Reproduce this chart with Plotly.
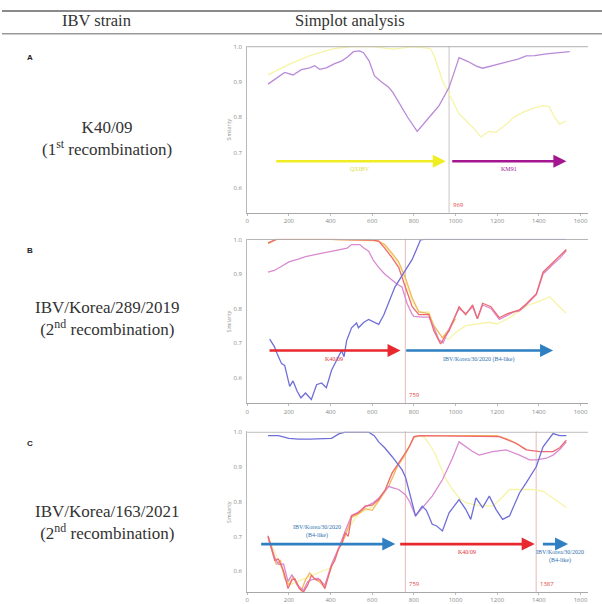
import plotly.graph_objects as go

W, H = 602, 604

# ---------------- data ----------------
# Panel A (K40/09)
A_purple_x = [100,140,180,220,260,300,324,348,380,420,454,480,510,540,558,585,611,645,679,700,727,770,816,850,888,921,945,969,995,1017,1060,1100,1130,1170,1210,1260,1300,1339,1380,1436,1480,1520,1548]
A_purple_y = [0.894,0.91,0.927,0.92,0.935,0.94,0.946,0.936,0.94,0.952,0.96,0.97,0.986,0.988,0.983,0.96,0.917,0.9,0.885,0.87,0.842,0.80,0.76,0.785,0.81,0.833,0.86,0.885,0.93,0.969,0.958,0.945,0.939,0.945,0.95,0.958,0.965,0.974,0.975,0.98,0.983,0.984,0.986]
A_yellow_x = [100,200,300,420,500,600,700,800,880,900,937,969,1017,1050,1082,1122,1160,1193,1243,1280,1323,1370,1420,1450,1475,1500,1530]
A_yellow_y = [0.92,0.95,0.975,0.995,1.0,1.0,0.993,1.0,0.995,0.97,0.904,0.866,0.81,0.79,0.772,0.744,0.76,0.757,0.78,0.80,0.814,0.825,0.833,0.83,0.80,0.78,0.79]

# Panel B (IBV/Korea/289/2019)
B_blue_x = [108,130,147,165,180,204,220,240,258,280,308,333,357,380,405,430,453,465,477,501,525,534,560,583,610,631,655,679,709,743,770,792,812,832,850,1530]
B_blue_y = [0.711,0.69,0.664,0.64,0.635,0.574,0.59,0.56,0.541,0.555,0.536,0.579,0.584,0.57,0.621,0.65,0.678,0.66,0.706,0.744,0.758,0.744,0.76,0.768,0.76,0.754,0.78,0.815,0.862,0.895,0.92,0.942,0.97,0.999,1.0,1.0]
B_red_x = [100,140,400,500,600,631,660,695,727,759,792,824,872,896,928,950,969,1000,1017,1049,1082,1105,1130,1170,1210,1250,1280,1307,1339,1388,1420,1468,1500,1532]
B_red_y = [0.99,1.0,1.0,0.998,0.998,0.995,0.975,0.947,0.919,0.862,0.805,0.782,0.782,0.735,0.697,0.72,0.735,0.78,0.805,0.782,0.81,0.77,0.815,0.805,0.773,0.785,0.79,0.796,0.813,0.843,0.905,0.933,0.95,0.971]
B_pink_x = [100,130,160,200,245,280,320,360,405,450,480,501,540,560,583,605,631,660,695,720,743,767,790,800,840,872,896,920,940,969,1017,1049,1082,1105,1130,1170,1210,1250,1280,1307,1339,1388,1420,1468,1500,1532]
B_pink_y = [0.905,0.91,0.92,0.935,0.943,0.95,0.955,0.96,0.966,0.97,0.975,0.985,0.985,0.975,0.966,0.94,0.919,0.9,0.881,0.87,0.862,0.815,0.785,0.777,0.775,0.775,0.745,0.71,0.70,0.74,0.80,0.785,0.805,0.77,0.81,0.80,0.768,0.78,0.79,0.793,0.81,0.84,0.90,0.928,0.945,0.968]
B_orange_x = [100,140,400,600,631,660,695,727,759,792,824,872,896,937,969,1000]
B_orange_y = [0.988,1.0,1.0,0.998,0.995,0.985,0.96,0.935,0.89,0.83,0.79,0.785,0.75,0.715,0.74,0.77]
B_yellow_x = [100,140,400,631,660,695,727,759,792,824,872,896,937,969,1000,1049,1100,1160,1200,1250,1300,1350,1400,1452,1490,1530]
B_yellow_y = [0.99,1.0,1.0,0.995,0.98,0.955,0.93,0.88,0.82,0.79,0.79,0.75,0.716,0.711,0.73,0.75,0.755,0.76,0.755,0.77,0.79,0.81,0.82,0.834,0.81,0.787]

# Panel C (IBV/Korea/163/2021)
C_blue_x = [100,150,200,245,300,405,440,470,583,610,631,660,695,720,743,760,776,790,808,840,860,888,910,937,969,1017,1049,1073,1098,1130,1162,1194,1226,1259,1290,1307,1339,1388,1420,1468,1500,1532]
C_blue_y = [0.99,0.99,0.982,0.98,0.98,0.982,0.995,1.0,1.0,0.99,0.972,0.955,0.93,0.91,0.892,0.87,0.835,0.80,0.759,0.787,0.775,0.735,0.73,0.716,0.768,0.806,0.778,0.749,0.811,0.783,0.816,0.778,0.749,0.759,0.80,0.825,0.854,0.901,0.958,0.996,0.99,0.99]
C_red_x = [100,120,132,150,175,196,215,229,250,270,290,308,330,350,373,390,405,420,438,455,470,485,501,534,566,600,631,663,695,727,759,780,800,830,1210,1250,1290,1339,1404,1468,1500,1532]
C_red_y = [0.702,0.66,0.631,0.635,0.60,0.55,0.575,0.578,0.55,0.54,0.56,0.588,0.575,0.575,0.55,0.585,0.616,0.63,0.664,0.68,0.711,0.70,0.759,0.768,0.787,0.79,0.806,0.835,0.882,0.911,0.939,0.96,0.987,0.99,0.987,0.978,0.968,0.949,0.944,0.944,0.955,0.977]
C_orange_x = [100,125,140,160,180,200,220,240,260,280,300,320,345,370,390,410,440,470,501,534,566,600,640,680,720,759,800,830,1200,1250,1300,1340]
C_orange_y = [0.695,0.65,0.62,0.63,0.58,0.56,0.585,0.565,0.545,0.575,0.595,0.58,0.57,0.555,0.59,0.62,0.665,0.70,0.755,0.765,0.78,0.775,0.81,0.845,0.90,0.935,0.985,0.99,0.99,0.98,0.965,0.95]
C_pink_x = [100,132,150,175,196,215,240,270,290,308,340,373,405,438,470,501,534,566,600,631,660,679,700,727,759,780,808,840,888,937,985,1017,1049,1080,1114,1150,1178,1243,1280,1307,1355,1388,1436,1468,1500,1532]
C_pink_y = [0.70,0.64,0.62,0.62,0.57,0.59,0.56,0.545,0.57,0.575,0.58,0.56,0.62,0.665,0.715,0.76,0.77,0.785,0.795,0.81,0.83,0.844,0.84,0.835,0.82,0.80,0.759,0.783,0.816,0.863,0.925,0.972,0.958,0.945,0.934,0.94,0.944,0.949,0.94,0.934,0.92,0.92,0.925,0.934,0.95,0.972]
C_yellow_x = [100,200,300,400,470,534,600,631,663,695,727,759,800,830,850,872,900,921,950,985,1020,1049,1100,1178,1220,1259,1300,1371,1420,1452,1490,1532]
C_yellow_y = [0.70,0.56,0.585,0.61,0.71,0.765,0.785,0.80,0.835,0.88,0.91,0.94,0.985,0.99,0.985,0.968,0.94,0.911,0.87,0.835,0.81,0.797,0.79,0.787,0.81,0.835,0.835,0.835,0.83,0.816,0.80,0.783]

# breakpoints
A_breaks = [969]
B_breaks = [759]
C_breaks = [759, 1387]

# arrows: (start, end, label, colour-key)
A_arrow_level = 0.675
A_arrows = [(132, 953, "QXIBV", "yellow"), (977, 1532, "KM91", "magenta")]
B_arrow_level = 0.678
B_arrows = [(100, 736, "K40/09", "red"), (756, 1468, "IBV/Korea/30/2020 (B4-like)", "blue")]
C_arrow_level = 0.678
C_arrows = [(60, 711, "IBV/Korea/30/2020<br>(B4-like)", "blue"), (727, 1380, "K40/09", "red"),
            (1412, 1540, "IBV/Korea/30/2020<br>(B4-like)", "blue")]

x_ticks = [0, 200, 400, 600, 800, 1000, 1200, 1400, 1600]
y_ticks = [0.6, 0.7, 0.8, 0.9, 1.0]

strain_names = ["K40/09", "IBV/Korea/289/2019", "IBV/Korea/163/2021"]
strain_notes = ["(1<sup>st</sup> recombination)", "(2<sup>nd</sup> recombination)", "(2<sup>nd</sup> recombination)"]
panel_letters = ["A", "B", "C"]

# ---------------- styles ----------------
COL = {
    "purple": "#b98ad8",
    "pink": "#d98ad0",
    "yellow": "#f6f4a6",
    "orange": "#f2b862",
    "red": "#ee6a72",
    "blue": "#6f6fd8",
}
ARROW_COL = {"yellow": "#f0ee22", "magenta": "#a3168f", "red": "#e8282e", "blue": "#2f80c2"}
LABEL_COL = {"yellow": "#dede40", "magenta": "#a3168f", "red": "#e03030", "blue": "#2f6fb0"}


def px2x(p):
    return p / W


def py2y(p):
    return 1 - p / H


fig = go.Figure()

panels = [
    dict(xa="x", ya="y", dom=[py2y(211), py2y(43.3)], rng=[0.5296, 1.002],
         traces=[(A_yellow_x, A_yellow_y, "yellow"), (A_purple_x, A_purple_y, "purple")],
         breaks=A_breaks, brcol="#cfc4c4", level=A_arrow_level, arrows=A_arrows),
    dict(xa="x2", ya="y2", dom=[py2y(403), py2y(237.3)], rng=[0.525, 1.002],
         traces=[(B_yellow_x, B_yellow_y, "yellow"), (B_orange_x, B_orange_y, "orange"),
                 (B_pink_x, B_pink_y, "pink"), (B_red_x, B_red_y, "red"), (B_blue_x, B_blue_y, "blue")],
         breaks=B_breaks, brcol="#e6b8b8", level=B_arrow_level, arrows=B_arrows),
    dict(xa="x3", ya="y3", dom=[py2y(593), py2y(431.3)], rng=[0.54, 1.002],
         traces=[(C_yellow_x, C_yellow_y, "yellow"), (C_orange_x, C_orange_y, "orange"),
                 (C_pink_x, C_pink_y, "pink"), (C_red_x, C_red_y, "red"), (C_blue_x, C_blue_y, "blue")],
         breaks=C_breaks, brcol="#e6b8b8", level=C_arrow_level, arrows=C_arrows),
]

XDOM = [px2x(246), px2x(588)]
XRNG = [0, 1636]

shapes = []
annotations = []
layout_axes = {}

for i, p in enumerate(panels):
    for xs, ys, c in p["traces"]:
        fig.add_trace(go.Scatter(x=xs, y=ys, mode="lines", xaxis=p["xa"], yaxis=p["ya"],
                                 line=dict(color=COL[c], width=1.3), showlegend=False,
                                 hoverinfo="skip"))
    suffix = "" if i == 0 else str(i + 1)
    layout_axes["xaxis" + suffix] = dict(
        domain=XDOM, range=XRNG, anchor=p["ya"], tickvals=x_ticks,
        ticktext=[str(t) for t in x_ticks], tickfont=dict(size=6, color="#888"),
        showline=True, linecolor="#a8a8a8", linewidth=1, showgrid=False, zeroline=False,
        ticks="outside", ticklen=2, tickcolor="#bbb")
    layout_axes["yaxis" + suffix] = dict(
        domain=p["dom"], range=p["rng"], anchor=p["xa"], tickvals=y_ticks,
        ticktext=["%.1f" % t for t in y_ticks], tickfont=dict(size=6, color="#888"),
        showline=True, linecolor="#b8b8b8", linewidth=1, showgrid=False, zeroline=False,
        ticks="", ticklabelstandoff=3)
    # top reference line at 1.0
    shapes.append(dict(type="line", xref=p["xa"] + " domain", yref=p["ya"], x0=0, x1=1, y0=1.0, y1=1.0,
                       line=dict(color="#b0b0b0", width=1)))
    # breakpoints
    for b in p["breaks"]:
        shapes.append(dict(type="line", xref=p["xa"], yref=p["ya"] + " domain", x0=b, x1=b, y0=0, y1=1,
                           line=dict(color=p["brcol"], width=1), layer="below"))
        annotations.append(dict(x=b, y=0, xref=p["xa"], yref=p["ya"] + " domain", text=str(b),
                                showarrow=False, xanchor="left", yanchor="bottom", xshift=2, yshift=2,
                                font=dict(size=6, color="#e04848")))
    # arrows
    for (s, e, lab, ck) in p["arrows"]:
        annotations.append(dict(x=e, y=p["level"], ax=s, ay=p["level"], xref=p["xa"], yref=p["ya"],
                                axref=p["xa"], ayref=p["ya"], text="", showarrow=True,
                                arrowhead=2, arrowsize=1.0, arrowwidth=2.6,
                                arrowcolor=ARROW_COL[ck], standoff=0, startstandoff=0))
    # y title
    annotations.append(dict(x=px2x(228), y=(p["dom"][0] + p["dom"][1]) / 2, xref="paper", yref="paper",
                            xanchor="center", yanchor="middle",
                            text="Similarity", textangle=-90, showarrow=False,
                            font=dict(size=5, color="#888")))

# arrow labels
lab_font = dict(size=6, family="Liberation Serif")


def arrow_label(x, y, xr, yr, text, ck, below=True, shift=3):
    annotations.append(dict(x=x, y=y, xref=xr, yref=yr, text=text, showarrow=False,
                            xanchor="center", yanchor="top" if below else "bottom",
                            yshift=-shift if below else shift,
                            font=dict(lab_font, color=LABEL_COL[ck])))


arrow_label((A_arrows[0][0] + A_arrows[0][1]) / 2, A_arrow_level, "x", "y", A_arrows[0][2], "yellow")
arrow_label((A_arrows[1][0] + A_arrows[1][1]) / 2, A_arrow_level, "x", "y", A_arrows[1][2], "magenta")
arrow_label((B_arrows[0][0] + B_arrows[0][1]) / 2, B_arrow_level, "x2", "y2", B_arrows[0][2], "red")
arrow_label((B_arrows[1][0] + B_arrows[1][1]) / 2, B_arrow_level, "x2", "y2", B_arrows[1][2], "blue")
arrow_label((C_arrows[0][0] + C_arrows[0][1]) / 2 - 50, C_arrow_level, "x3", "y3", C_arrows[0][2], "blue",
            below=False)
arrow_label((C_arrows[1][0] + C_arrows[1][1]) / 2, C_arrow_level, "x3", "y3", C_arrows[1][2], "red")
arrow_label(1500, C_arrow_level, "x3", "y3", C_arrows[2][2], "blue")

# header
serif = "Liberation Serif"
annotations.append(dict(x=px2x(95), y=py2y(18), xref="paper", yref="paper", text="IBV strain",
                        xanchor="center", yanchor="middle",
                        showarrow=False, font=dict(size=16.5, family=serif, color="#333")))
annotations.append(dict(x=px2x(349), y=py2y(18), xref="paper", yref="paper", text="Simplot analysis",
                        xanchor="center", yanchor="middle",
                        showarrow=False, font=dict(size=16.5, family=serif, color="#333")))
shapes.append(dict(type="line", xref="paper", yref="paper", x0=0, x1=1, y0=py2y(8), y1=py2y(8),
                   line=dict(color="#8a8a8a", width=2)))
shapes.append(dict(type="line", xref="paper", yref="paper", x0=0, x1=1, y0=py2y(31), y1=py2y(31),
                   line=dict(color="#9a9a9a", width=1.5)))

# left column
letter_y = [55, 249, 443]
block_y = [136, 318, 523]
for i in range(3):
    annotations.append(dict(x=px2x(28), y=py2y(letter_y[i]), xref="paper", yref="paper",
                            xanchor="center", yanchor="middle",
                            text="<b>%s</b>" % panel_letters[i], showarrow=False,
                            font=dict(size=8, family="Liberation Sans", color="#222")))
    annotations.append(dict(x=px2x(105), y=py2y(block_y[i]), xref="paper", yref="paper",
                            xanchor="center", yanchor="middle",
                            text=strain_names[i] + "<br>" + strain_notes[i], showarrow=False,
                            font=dict(size=17, family=serif, color="#333")))

fig.update_layout(width=W, height=H, margin=dict(l=0, r=0, t=0, b=0),
                  paper_bgcolor="white", plot_bgcolor="white",
                  shapes=shapes, annotations=annotations, showlegend=False, **layout_axes)

fig.write_html("out.html")
